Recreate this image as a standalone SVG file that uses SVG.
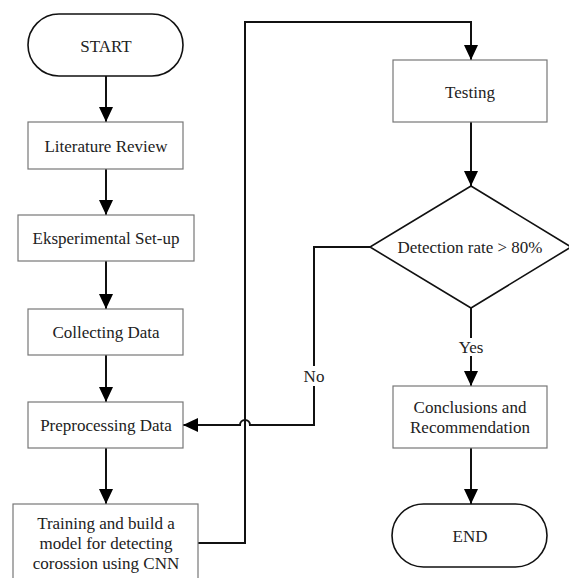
<svg xmlns="http://www.w3.org/2000/svg" width="569" height="578" viewBox="0 0 569 578">
<style>
.box{fill:#fff;stroke:#777;stroke-width:1.2}
.term{fill:#fff;stroke:#111;stroke-width:1.6}
.t{font-family:"Liberation Serif","Times New Roman",serif;font-size:17px;fill:#222;text-anchor:middle;dominant-baseline:central}
.c{fill:none;stroke:#111;stroke-width:2}
</style>
<defs>
<marker id="ah" markerWidth="15" markerHeight="14" refX="15" refY="7" orient="auto" markerUnits="userSpaceOnUse">
<path d="M0,0 L15,7 L0,14 Z" fill="#000"/>
</marker>
</defs>
<rect width="569" height="578" fill="#fff"/>
<g id="connectors">
<line class="c" x1="106" y1="76" x2="106" y2="122" marker-end="url(#ah)"/>
<line class="c" x1="106" y1="169" x2="106" y2="215" marker-end="url(#ah)"/>
<line class="c" x1="106" y1="261" x2="106" y2="309" marker-end="url(#ah)"/>
<line class="c" x1="106" y1="355" x2="106" y2="402" marker-end="url(#ah)"/>
<line class="c" x1="106" y1="448" x2="106" y2="504" marker-end="url(#ah)"/>
<polyline class="c" points="198,543 245,543 245,22 471,22 471,60" marker-end="url(#ah)"/>
<line class="c" x1="471" y1="122" x2="471" y2="186" marker-end="url(#ah)"/>
<path class="c" d="M370,247 L314,247 L314,425 L250,425 A5,5 0 0 0 240,425 L183,425" marker-end="url(#ah)"/>
<line class="c" x1="471" y1="308" x2="471" y2="386" marker-end="url(#ah)"/>
<line class="c" x1="471" y1="448" x2="471" y2="504" marker-end="url(#ah)"/>
<rect x="301" y="366" width="26" height="20" fill="#fff"/>
<text class="t" x="314" y="376">No</text>
<rect x="454" y="338" width="34" height="18" fill="#fff"/>
<text class="t" x="471" y="347">Yes</text>
</g>
<g id="start">
<rect class="term" x="28" y="14" width="155" height="62" rx="31" ry="31"/>
<text class="t" x="106" y="46">START</text>
</g>
<g id="literature">
<rect class="box" x="28" y="122" width="155" height="47"/>
<text class="t" x="106" y="146">Literature Review</text>
</g>
<g id="eksperimental">
<rect class="box" x="18" y="215" width="176" height="46"/>
<text class="t" x="106" y="238">Eksperimental Set-up</text>
</g>
<g id="collecting">
<rect class="box" x="28" y="309" width="155" height="46"/>
<text class="t" x="106" y="332">Collecting Data</text>
</g>
<g id="preprocessing">
<rect class="box" x="28" y="402" width="155" height="46"/>
<text class="t" x="106" y="425">Preprocessing Data</text>
</g>
<g id="training">
<rect class="box" x="13" y="504" width="185" height="80"/>
<text class="t" x="106" y="523">Training and build a</text>
<text class="t" x="106" y="543">model for detecting</text>
<text class="t" x="106" y="563">corossion using CNN</text>
</g>
<g id="testing">
<rect class="box" x="393" y="60" width="154" height="62"/>
<text class="t" x="470" y="92">Testing</text>
</g>
<g id="decision">
<polygon class="term" points="471,186 571,247 471,308 370,247"/>
<text class="t" x="470" y="247">Detection rate &gt; 80%</text>
</g>
<g id="conclusions">
<rect class="box" x="393" y="386" width="154" height="62"/>
<text class="t" x="470" y="407">Conclusions and</text>
<text class="t" x="470" y="427">Recommendation</text>
</g>
<g id="end">
<rect class="term" x="392" y="504" width="155" height="63" rx="31.5" ry="31.5"/>
<text class="t" x="470" y="536">END</text>
</g>
</svg>
